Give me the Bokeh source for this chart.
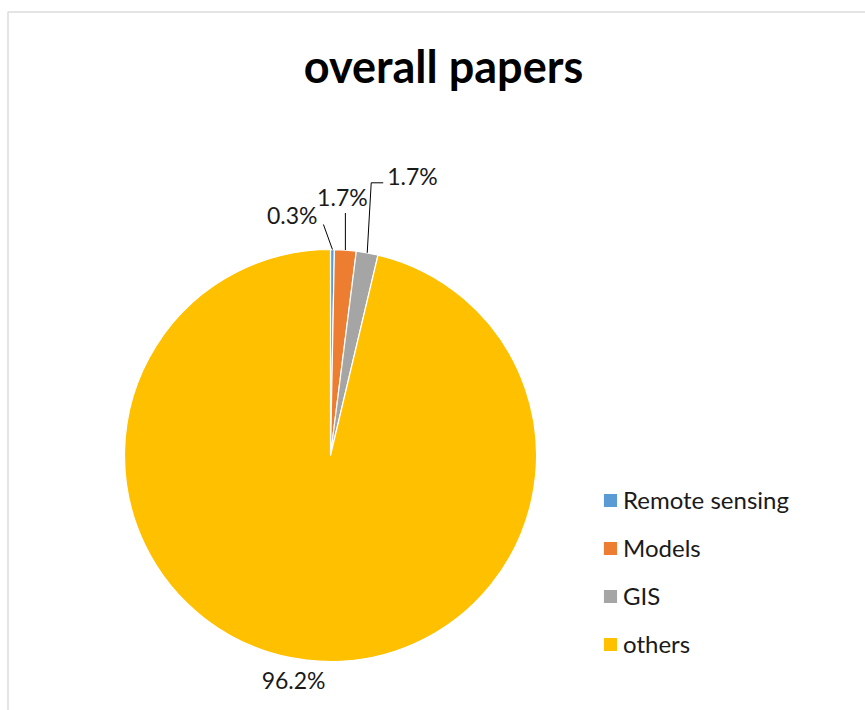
import math
from bokeh.plotting import figure
from bokeh.models import Range1d, ColumnDataSource, Label, BoxAnnotation
from bokeh.embed import file_html
from bokeh.resources import INLINE
from bokeh.core.properties import value

# ---- data ----
title_text = "overall papers"
categories = ["Remote sensing", "Models", "GIS", "others"]
percent = [0.3, 1.7, 1.7, 96.2]
colors = ["#5B9BD5", "#ED7D31", "#A5A5A5", "#FFC000"]
pct_labels = ["0.3%", "1.7%", "1.7%", "96.2%"]

# ---- layout ----
W, H = 865, 710
FONT = "Lato"
cx, cy, R = 330, H - 455, 206

p = figure(width=W, height=H, x_range=Range1d(0, W), y_range=Range1d(0, H),
           output_backend="svg", toolbar_location=None, min_border=0,
           x_axis_location=None, y_axis_location=None)
p.grid.visible = False
p.outline_line_color = None
p.background_fill_color = "white"
p.border_fill_color = "white"

# chart-area border (top and left edges visible)
p.add_layout(BoxAnnotation(left=7.5, top=H - 11.5, right=W + 20, bottom=-20,
                           fill_alpha=0, line_color="#8c8c8c", line_width=1.5))

total = sum(percent)
starts, ends, mids = [], [], []
acc = 0.0
for v in percent:
    a0 = math.pi / 2 - 2 * math.pi * acc / total
    acc += v
    a1 = math.pi / 2 - 2 * math.pi * acc / total
    starts.append(a0)
    ends.append(a1)
    mids.append((a0 + a1) / 2)

src = ColumnDataSource(dict(cat=categories, start=starts, end=ends, color=colors))
p.wedge(x=cx, y=cy, radius=R, start_angle="start", end_angle="end", direction="clock",
        fill_color="color", line_color="white", line_width=1.2, source=src,
        legend_field="cat")

# edge points of each slice (mid angle)
ex = [cx + R * math.cos(a) for a in mids]
ey = [cy + R * math.sin(a) for a in mids]

# label placement relative to slice edge: (dx, dy, anchor, leader path offsets)
placement = [
    (-15, 35, "center_right", [(0, 0), (-9, 25)]),
    (-3, 53, "center", [(0, 0), (0, 37)]),
    (20, 77, "center_left", [(0, 0), (4, 70), (16, 70)]),
    (-13, -20, "center", None),
]

lx, ly, anchors, lines_x, lines_y = [], [], [], [], []
for i, (dx, dy, anc, path) in enumerate(placement):
    lx.append(ex[i] + dx)
    ly.append(ey[i] + dy)
    anchors.append(anc)
    if path:
        lines_x.append([ex[i] + px for px, py in path])
        lines_y.append([ey[i] + py for px, py in path])

p.multi_line(xs=lines_x, ys=lines_y, line_color="black", line_width=1)

for i in range(len(pct_labels)):
    p.add_layout(Label(x=lx[i], y=ly[i], text=pct_labels[i], text_font=FONT,
                       text_font_size="23px", text_color="#1a1a1a",
                       anchor=anchors[i]))

p.add_layout(Label(x=443, y=H - 65, text=title_text, text_font=FONT,
                   text_font_size="45px", text_font_style="bold",
                   text_color="black", anchor="center"))

lg = p.legend[0]
lg.location = (601, 52)
lg.glyph_width = 18
lg.glyph_height = 18
lg.label_standoff = 4
lg.label_height = 24
lg.spacing = 19
lg.padding = 0
lg.margin = 0
lg.border_line_alpha = 0
lg.background_fill_alpha = 0
lg.label_text_font = FONT
lg.label_text_font_size = "24px"
lg.label_text_color = "#1a1a1a"

open("out.html", "w").write(file_html(p, INLINE))
